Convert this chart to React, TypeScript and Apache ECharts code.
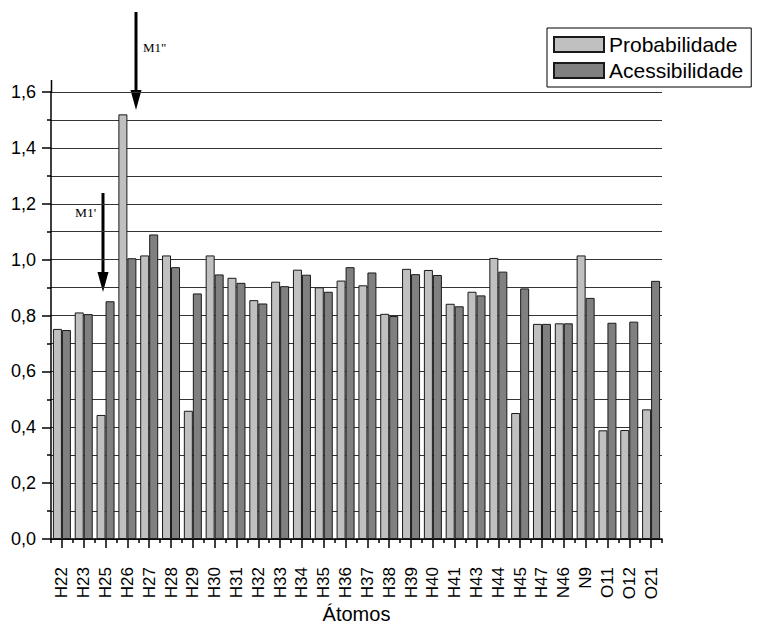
import React, { useEffect, useRef } from "react";
import * as echarts from "echarts";

const categories = ["H22", "H23", "H25", "H26", "H27", "H28", "H29", "H30", "H31", "H32", "H33", "H34", "H35", "H36", "H37", "H38", "H39", "H40", "H41", "H43", "H44", "H45", "H47", "N46", "N9", "O11", "O12", "O21"];
const probabilidade = [0.752, 0.811, 0.444, 1.52, 1.015, 1.015, 0.459, 1.015, 0.935, 0.855, 0.921, 0.964, 0.901, 0.925, 0.908, 0.806, 0.967, 0.963, 0.842, 0.885, 1.006, 0.451, 0.77, 0.772, 1.015, 0.389, 0.39, 0.464];
const acessibilidade = [0.748, 0.805, 0.851, 1.005, 1.09, 0.973, 0.879, 0.947, 0.917, 0.843, 0.905, 0.946, 0.885, 0.973, 0.954, 0.798, 0.948, 0.945, 0.833, 0.872, 0.957, 0.897, 0.77, 0.772, 0.863, 0.774, 0.778, 0.924];
const seriesNames = ["Probabilidade", "Acessibilidade"];
const yTicks = { min: 0, max: 1.6, interval: 0.2 };
const axisTitle = "Átomos";

const FONT = "'Liberation Sans', Arial, sans-serif";

function arrow(x: number, y0: number, y1: number) {
  return [
    { type: "line", shape: { x1: x, y1: y0, x2: x, y2: y1 - 12 }, style: { stroke: "#000", lineWidth: 3 } },
    { type: "polygon", shape: { points: [[x - 5.5, y1 - 20], [x + 5.5, y1 - 20], [x, y1]] }, style: { fill: "#000" } },
  ];
}

export default function App() {
  const ref = useRef<HTMLDivElement>(null);
  useEffect(() => {
    if (!ref.current) return;
    const chart = echarts.init(ref.current, null, { renderer: "svg" });
    chart.setOption({
      animation: false,
      backgroundColor: "#fff",
      textStyle: { fontFamily: FONT },
      grid: { left: 51, right: 95, top: 92, bottom: 87, containLabel: false, outerBoundsMode: "none" },
      legend: {
        orient: "vertical",
        left: 547,
        top: 28,
        padding: [6, 8, 6, 6],
        itemGap: 5,
        itemWidth: 50,
        itemHeight: 15,
        borderColor: "#000",
        borderWidth: 1,
        borderRadius: 0,
        icon: "rect",
        textStyle: { fontSize: 21, color: "#000", fontFamily: FONT },
        data: seriesNames,
      },
      xAxis: [
        {
          type: "category",
          data: categories,
          boundaryGap: true,
          axisLine: { show: true, lineStyle: { color: "#000", width: 1.5 } },
          axisTick: { show: true, length: 4, lineStyle: { color: "#000", width: 1.5 } },
          axisLabel: { rotate: 90, margin: 28, fontSize: 17, color: "#000", fontFamily: FONT, interval: 0 },
          name: axisTitle,
          nameLocation: "middle",
          nameGap: 65,
          nameMoveOverlap: false,
          nameTextStyle: { fontSize: 20, color: "#000", fontFamily: FONT },
          splitLine: { show: false },
        },
        {
          type: "category",
          data: categories,
          boundaryGap: true,
          position: "bottom",
          axisLine: { show: false },
          axisTick: { show: true, alignWithLabel: true, length: 9, interval: 0, lineStyle: { color: "#000", width: 1.5 } },
          axisLabel: { show: false },
          splitLine: { show: false },
        },
      ],
      yAxis: {
        type: "value",
        min: yTicks.min,
        max: yTicks.max,
        interval: yTicks.interval,
        axisLine: { show: true, lineStyle: { color: "#000", width: 1.5 } },
        axisTick: { show: true, length: 9, lineStyle: { color: "#000", width: 1.5 } },
        minorTick: { show: true, splitNumber: 2, length: 4, lineStyle: { color: "#000", width: 1.5 } },
        axisLabel: {
          margin: 15,
          fontSize: 18,
          color: "#000",
          fontFamily: FONT,
          formatter: (v: number) => v.toFixed(1).replace(".", ","),
        },
        splitLine: { show: true, lineStyle: { color: "#333", width: 1 } },
        minorSplitLine: { show: true, lineStyle: { color: "#333", width: 1 } },
      },
      series: [
        {
          name: seriesNames[0],
          type: "bar",
          data: probabilidade,
          barWidth: 9,
          barGap: "0%",
          itemStyle: { color: "#c0c0c0", borderColor: "#1a1a1a", borderWidth: 1 },
        },
        {
          name: seriesNames[1],
          type: "bar",
          data: acessibilidade,
          barWidth: 9,
          barGap: "0%",
          itemStyle: { color: "#808080", borderColor: "#1a1a1a", borderWidth: 1 },
        },
      ],
      graphic: [
        { type: "line", shape: { x1: 51.5, y1: 80, x2: 51.5, y2: 92 }, style: { stroke: "#000", lineWidth: 1.5 } },
        ...arrow(136, 12, 110),
        ...arrow(103, 193, 292),
        {
          type: "text",
          x: 143,
          y: 47,
          style: { text: "M1\"", fontSize: 13, fontFamily: "'Liberation Serif', 'Times New Roman', serif", fill: "#000", verticalAlign: "middle" },
        },
        {
          type: "text",
          x: 75,
          y: 212,
          style: { text: "M1'", fontSize: 13.5, fontFamily: "'Liberation Serif', 'Times New Roman', serif", fill: "#000", verticalAlign: "middle" },
        },
      ],
    });
    return () => chart.dispose();
  }, []);
  return <div ref={ref} style={{ position: "fixed", left: 0, top: 0, width: 757, height: 626 }} />;
}
